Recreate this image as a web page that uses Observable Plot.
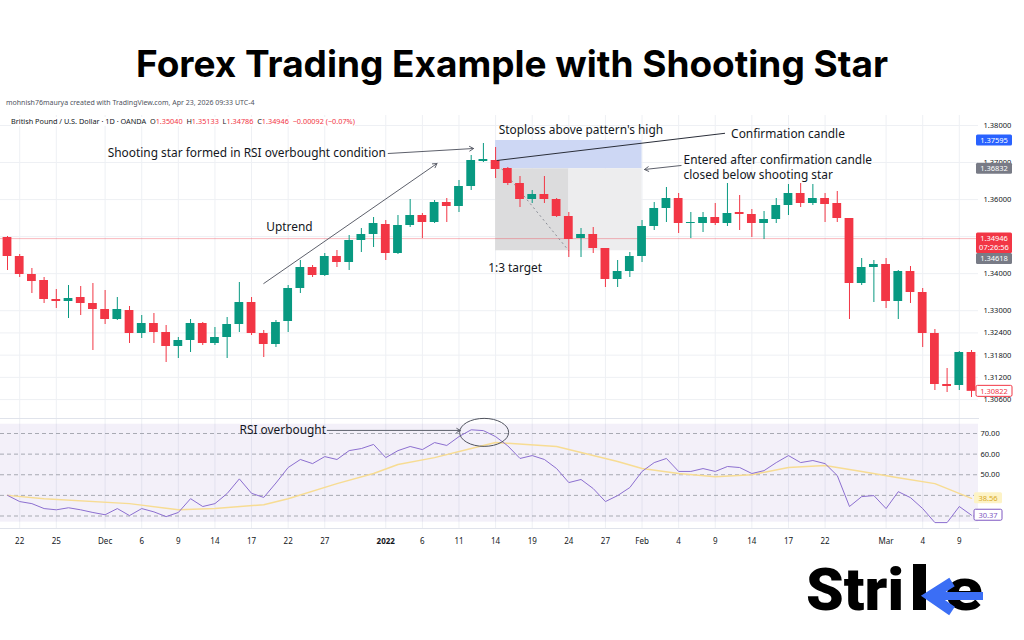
<!DOCTYPE html>
<html><head><meta charset="utf-8">
<script src="https://cdn.jsdelivr.net/npm/d3@7"></script>
<script src="https://cdn.jsdelivr.net/npm/@observablehq/plot@0.6"></script>
<style>
html,body{margin:0;padding:0;background:#fff}
body{width:1024px;height:640px;overflow:hidden;position:relative;font-family:"Noto Sans",sans-serif}
.hdr{position:absolute;font-family:"Noto Sans",sans-serif;color:#131722;white-space:nowrap;z-index:5;background:#fff;line-height:1.25}
.red{color:#f23645}
#main{position:absolute;left:0;top:115px}
#rsi{position:absolute;left:0;top:418px}
#titleSvg{position:absolute;left:0;top:0}
#logo{position:absolute;left:790px;top:550px}
</style></head><body>
<svg id="titleSvg" width="1024" height="95"><text id="title" x="512" y="77" text-anchor="middle" font-family="Inter" font-weight="700" font-size="37" fill="#000">Forex Trading Example with Shooting Star</text></svg>
<div class="hdr" style="left:6px;top:99px;font-size:7px;color:#50535e">mohnish76maurya created with TradingView.com, Apr 23, 2026 09:33 UTC-4</div>
<div class="hdr" style="left:11px;top:117px;font-size:7.3px">British Pound / U.S. Dollar · 1D · OANDA&nbsp; O<span class="red">1.35040</span>&nbsp; H<span class="red">1.35133</span>&nbsp; L<span class="red">1.34786</span>&nbsp; C<span class="red">1.34946</span>&nbsp; <span class="red">−0.00092 (−0.07%)</span></div>
<div id="main"></div>
<div id="rsi"></div>
<svg id="logo" width="220" height="75">
  <text x="16" y="60" font-family="Roboto" font-weight="900" font-size="60" fill="#000" textLength="98" lengthAdjust="spacingAndGlyphs">Stri</text>
  <rect x="123" y="14" width="13" height="46" fill="#000"/>
  <text x="155" y="60" font-family="Roboto" font-weight="900" font-size="60" fill="#000" textLength="38" lengthAdjust="spacingAndGlyphs">e</text>
  <polyline points="162,32 140,46 162,61" fill="none" stroke="#3b6ef5" stroke-width="10"/>
  <rect x="140" y="42" width="53" height="8" fill="#3b6ef5"/>
</svg>
<script>
// ---------- data ----------
const tickIdx = [1,4,8,11,14,17,20,23,26,31,34,37,40,43,46,49,52,55,58,61,64,67,72,75,78];
const tickLabels = ["22","25","Dec","6","9","14","17","22","27","2022","6","11","14","19","24","27","Feb","4","9","14","17","22","Mar","4","9"];
const priceGrid = [1.38,1.37,1.36,1.35,1.34,1.33,1.324,1.318,1.312,1.306,1.30];
const priceTickLabels = [1.38,1.37,1.36,1.34,1.33,1.324,1.318,1.312,1.306,1.30]; // 1.35 is hidden behind the last-price badge
const rsiTickLabels = [70,60,50];   // 40 is hidden behind the MA badge
const rsiLevels = [70,60,50,40,30];

const opens = [1.34976,1.34463,1.33977,1.33815,1.33302,1.33248,1.33356,1.33194,1.33032,1.32762,
1.33005,1.32384,1.32654,1.32411,1.32033,1.32195,1.32654,1.32114,1.32276,1.32627,
1.33221,1.32384,1.32087,1.32708,1.33599,1.34166,1.33950,1.34463,1.34301,1.34895,
1.35057,1.35327,1.34544,1.35300,1.35570,1.35381,1.35921,1.35813,1.36353,1.37028,
1.37055,1.36839,1.36434,1.36002,1.36137,1.36002,1.35543,1.34949,1.35057,1.34679,
1.33842,1.34058,1.34463,1.35273,1.35759,1.36029,1.35354,1.35354,1.35516,1.35354,
1.35651,1.35597,1.35354,1.35462,1.35840,1.36164,1.35894,1.36029,1.35894,1.35489,
1.33734,1.34166,1.34247,1.33248,1.34058,1.33491,1.32384,1.31007,1.30980,1.31871];
const highs = [1.35003,1.34517,1.34139,1.33896,1.33572,1.33680,1.33653,1.33734,1.33545,1.33356,
1.33113,1.32870,1.32924,1.32600,1.32276,1.32762,1.32681,1.32546,1.32816,1.33761,
1.33356,1.32465,1.32735,1.33680,1.34355,1.34220,1.34544,1.34625,1.35030,1.35219,
1.35516,1.35435,1.35570,1.36002,1.35624,1.35975,1.36029,1.36515,1.37190,1.37514,
1.37406,1.36866,1.36623,1.36245,1.36623,1.36029,1.35651,1.35219,1.35246,1.34679,
1.34355,1.34571,1.35435,1.35921,1.36326,1.36164,1.35651,1.35651,1.35894,1.36434,
1.36110,1.35732,1.35678,1.36029,1.36407,1.36434,1.36407,1.36164,1.36218,1.35489,
1.34409,1.34355,1.34409,1.34085,1.34193,1.33599,1.32492,1.31439,1.31898,1.31925];
const lows = [1.34085,1.33896,1.33464,1.33194,1.33059,1.32789,1.32870,1.31925,1.32627,1.32735,
1.32114,1.32249,1.32114,1.31601,1.31709,1.31871,1.32060,1.32060,1.31709,1.32411,
1.32330,1.31736,1.32006,1.32411,1.33464,1.33896,1.33923,1.34166,1.34085,1.34571,
1.34706,1.34355,1.34517,1.35246,1.34949,1.35354,1.35381,1.35651,1.36245,1.37001,
1.36569,1.36380,1.35786,1.35894,1.35894,1.35516,1.34436,1.34436,1.34544,1.33626,
1.33626,1.33896,1.34301,1.35165,1.35381,1.35084,1.34949,1.35111,1.35300,1.35273,
1.35165,1.34976,1.34922,1.35354,1.35570,1.35786,1.35840,1.35381,1.35381,1.32762,
1.33680,1.33221,1.33059,1.32762,1.33194,1.32006,1.30845,1.30791,1.30845,1.30656];
const closes = [1.34463,1.33977,1.33788,1.33302,1.33248,1.33329,1.33194,1.33032,1.32762,1.33032,
1.32384,1.32654,1.32411,1.32033,1.32195,1.32654,1.32114,1.32276,1.32627,1.33221,
1.32384,1.32087,1.32681,1.33599,1.34166,1.33950,1.34463,1.34301,1.34895,1.35057,
1.35354,1.34544,1.35300,1.35570,1.35381,1.35921,1.35813,1.36353,1.37055,1.37082,
1.36812,1.36434,1.36002,1.36137,1.36002,1.35543,1.34922,1.35057,1.34679,1.33842,
1.34058,1.34463,1.35273,1.35759,1.36029,1.35354,1.35381,1.35516,1.35354,1.35624,
1.35597,1.35354,1.35462,1.35840,1.36164,1.35894,1.36029,1.35867,1.35489,1.33734,
1.34166,1.34247,1.33248,1.34058,1.33491,1.32384,1.31007,1.30953,1.31871,1.30822];

const rsi = [40,37,36,33.6,33,34,33,31.7,30.6,33.6,
30.2,33.6,32,29.7,31.7,38.4,34.6,36,40.9,48,
41,39,46,53.5,57.4,55.4,58.8,57.4,61.7,62.7,
64.7,58.3,61.7,63.7,62.2,65.6,64.2,68.5,71.8,71.4,
68.5,64,57.9,59.3,57.4,53,46.2,47.7,43.3,37,
39.9,43.8,51.6,55.9,57.9,51.6,51.6,53,51.6,54,
53.5,50.6,52,55.9,59.3,55.9,56.9,55.4,49.6,34.6,
39.4,39.9,33.6,41.8,38.9,33.6,26.8,26.8,34.6,30.37];
const rsiMaIdx = [0,3,10,14,17,21,23,27,30,32,35,38,40,45,47,50,52,55,58,61,64,67,68,70,73,76,79];
const rsiMaVal = [40,38.4,36,33,33.6,35.5,38.4,45.7,50.6,55,58.3,62.7,65.6,63.7,60.8,56.4,53,50.6,49,50,53.5,54.5,53.5,51.6,48.6,45.7,38.56];

// trade setup
const stopLoss = 1.37595, entry = 1.36832, target = 1.34618;
const lastPrice = 1.34946, lastClose = 1.30822;
const tradeStart = 40, tradeMid = 46, tradeEnd = 52;
const rsiLast = 30.37, rsiMaLast = 38.56;

// annotations (data units: candle index, price / rsi)
const annText = [
  {x:31.0, y:1.37244, t:"Shooting star formed in RSI overbought condition", a:"end"},
  {x:23.1, y:1.35246, t:"Uptrend", a:"middle"},
  {x:40.25, y:1.37865, t:"Stoploss above pattern's high", a:"start"},
  {x:59.3, y:1.37757, t:"Confirmation candle", a:"start"},
  {x:55.4, y:1.37068, t:"Entered after confirmation candle", a:"start"},
  {x:55.4, y:1.36665, t:"closed below shooting star", a:"start"},
  {x:41.6, y:1.34139, t:"1:3 target", a:"middle"}
];
const annArrows = [
  {x1:31.2, y1:1.37244, x2:38.2, y2:1.37379},
  {x1:21.0, y1:1.33734, x2:35.2, y2:1.36974},
  {x1:55.2, y1:1.36920, x2:52.2, y2:1.36812}
];
const annLinks = [{x1:40.1, y1:1.37055, x2:58.8, y2:1.37790}];
const rsiAnn = {x:26.1, y:71.5, t:"RSI overbought", ax2:37.1, cx:39.1, cy:70.3};

// ---------- build ----------
const G = "#089981", R = "#f23645";
const candles = opens.map((o,i)=>({i, o, h:highs[i], l:lows[i], c:closes[i], col: closes[i]>=o ? G : R}));
const labelOf = new Map(tickIdx.map((d,i)=>[d, tickLabels[i]]));
const xScale = {type:"linear", domain:[0,79], range:[7,971], axis:null};
const ANN = "#131722", ARW = "#5d606b", FS = 11.9;
const grid = "#eef0f4";
const textMarks = ["start","middle","end"].map(a =>
  Plot.text(annText.filter(d => d.a === a), {x:"x", y:"y", text:"t", textAnchor:a, fill:ANN, fontSize:FS}));

const main = Plot.plot({
  width:1024, height:303, marginTop:0, marginBottom:0, marginLeft:0, marginRight:46,
  style:"background:transparent;overflow:visible;font-family:'Noto Sans',sans-serif",
  x: xScale,
  y: {domain:[1.30,1.38], range:[306.3,10], axis:null},
  marks: [
    Plot.gridY(priceGrid, {stroke:grid, strokeOpacity:1}),
    Plot.gridX(tickIdx, {stroke:grid, strokeOpacity:1}),
    Plot.rect([0], {x1:tradeStart, x2:tradeEnd, y1:entry, y2:stopLoss, fill:"#cdd7f4"}),
    Plot.rect([0], {x1:tradeStart, x2:tradeMid, y1:target, y2:entry, fill:"#dcdcdd"}),
    Plot.rect([0], {x1:tradeMid, x2:tradeEnd, y1:target, y2:entry, fill:"#ededee"}),
    Plot.ruleY([lastPrice], {stroke:R, strokeOpacity:0.35}),
    Plot.link([0], {x1:tradeStart+0.5, y1:entry, x2:tradeMid, y2:target, stroke:"#8a8d96", strokeDasharray:"2,3"}),
    Plot.ruleX(candles, {x:"i", y1:"l", y2:"h", stroke:"col", strokeWidth:1}),
    Plot.rect(candles, {x1:d=>d.i-0.36, x2:d=>d.i+0.36, y1:"o", y2:"c", fill:"col"}),
    Plot.link(annLinks, {x1:"x1", y1:"y1", x2:"x2", y2:"y2", stroke:"#2a2e39", strokeWidth:1}),
    Plot.arrow(annArrows, {x1:"x1", y1:"y1", x2:"x2", y2:"y2", stroke:ARW, strokeWidth:1, headLength:7, bend:0}),
    ...textMarks,
    Plot.axisY(priceTickLabels, {anchor:"right", label:null, tickSize:0, tickPadding:5, tickFormat:d=>d.toFixed(5), fontSize:7.5, fill:"#131722"})
  ]
});
document.getElementById("main").append(main);

const rsiPlot = Plot.plot({
  width:1024, height:132, marginTop:0, marginBottom:22, marginLeft:0, marginRight:46,
  style:"background:#fff;overflow:visible;font-family:'Noto Sans',sans-serif",
  x: xScale,
  y: {domain:[30,70], range:[97.5,15], axis:null},
  marks: [
    Plot.gridX(tickIdx, {stroke:grid, strokeOpacity:1}),
    Plot.rect([0], {y1:27, y2:74.5, fill:"#7e57c2", fillOpacity:0.09}),
    Plot.ruleY(rsiLevels, {stroke:"#9598a1", strokeDasharray:"4,3", strokeOpacity:0.8}),
    Plot.line(rsiMaIdx, {x:d=>d, y:(d,i)=>rsiMaVal[i], stroke:"#f7dc93", strokeWidth:1.5}),
    Plot.line(rsi, {x:(d,i)=>i, y:d=>d, stroke:"#8c6fd0", strokeWidth:1}),
    Plot.arrow([rsiAnn], {x1:d=>d.x+0.1, y1:"y", x2:"ax2", y2:"y", stroke:ARW, strokeWidth:1, headLength:6}),
    Plot.text([rsiAnn], {x:"x", y:"y", text:"t", textAnchor:"end", fill:ANN, fontSize:FS}),
    Plot.frame({anchor:"top", stroke:"#e0e3eb"}),
    Plot.frame({anchor:"bottom", stroke:"#e0e3eb"}),
    Plot.axisY(rsiTickLabels, {anchor:"right", label:null, tickSize:0, tickPadding:2, tickFormat:d=>d.toFixed(2), fontSize:7.5, fill:"#131722"}),
    Plot.axisX(tickIdx, {anchor:"bottom", label:null, tickSize:0, tickPadding:10, tickFormat:d=>labelOf.get(d), fontSize:8, fill:"#131722"})
  ]
});
document.getElementById("rsi").append(rsiPlot);
d3.select(rsiPlot).selectAll("text").filter(function(){return this.textContent==="2022";}).attr("font-weight","bold");

// ellipse around RSI peak, positioned through the plot's scales
{
  const sx = rsiPlot.scale("x"), sy = rsiPlot.scale("y");
  d3.select(rsiPlot).append("ellipse").attr("cx", sx.apply(rsiAnn.cx)).attr("cy", sy.apply(rsiAnn.cy))
    .attr("rx", 24.5).attr("ry", 14).attr("fill","none").attr("stroke","#50535e").attr("stroke-width",1);
}

// price-scale badges, positioned through the plot's scales
function badges(svg, plot, items, x0, w) {
  const sy = plot.scale("y");
  const s = d3.select(svg);
  let prevBottom = -Infinity;
  for (const b of items) {
    const lh = 9.5;
    let top = sy.apply(b.value) - 5.5;
    if (b.below && top < prevBottom) top = prevBottom;
    const h = lh * b.lines.length + 1.5;
    s.append("rect").attr("x", x0).attr("y", top).attr("width", w).attr("height", h).attr("rx", 1.5)
      .attr("fill", b.bg).attr("stroke", b.border || "none").attr("stroke-width", 1);
    b.lines.forEach((t, k) => {
      s.append("text").attr("x", x0 + w/2).attr("y", top + 1 + lh*k + lh/2).attr("dy","0.35em")
        .attr("text-anchor","middle").attr("font-size", 7.5).attr("font-family","Noto Sans").attr("fill", b.fg).text(t);
    });
    prevBottom = top + h;
  }
}
badges(main, main, [
  {value:stopLoss, lines:[stopLoss.toFixed(5)], bg:"#2962ff", fg:"#fff"},
  {value:entry, lines:[entry.toFixed(5)], bg:"#787b86", fg:"#fff"},
  {value:lastPrice, lines:[lastPrice.toFixed(5), "07:26:56"], bg:R, fg:"#fff"},
  {value:target, lines:[target.toFixed(5)], bg:"#787b86", fg:"#fff", below:true},
  {value:lastClose, lines:[lastClose.toFixed(5)], bg:"#fff", fg:R, border:R}
], 976, 36);
badges(rsiPlot, rsiPlot, [
  {value:rsiMaLast, lines:[rsiMaLast.toFixed(2)], bg:"#fdf3c6", fg:"#d8a923"},
  {value:rsiLast, lines:[rsiLast.toFixed(2)], bg:"#fff", fg:"#7e57c2", border:"#7e57c2"}
], 974, 28);

// fit title width
{
  const t = document.getElementById("title");
  const w = t.getComputedTextLength();
  t.setAttribute("font-size", (37 * 752 / w).toFixed(2));
}
</script>
</body></html>
